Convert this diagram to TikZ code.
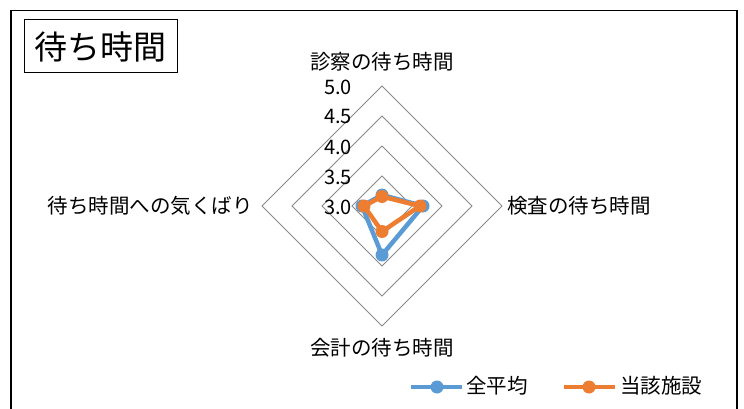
\documentclass[tikz,border=0pt]{standalone}
\usepackage{fontspec}
\setmainfont{Noto Sans CJK JP}
\definecolor{serA}{HTML}{5B9BD5}
\definecolor{serB}{HTML}{ED7D31}
\definecolor{gridc}{HTML}{898989}
\tikzset{
  lbl/.style={inner sep=0pt, font=\fontsize{20.5}{22}\selectfont},
  num/.style={inner sep=0pt, anchor=east, font=\fontsize{20}{22}\selectfont},
  ring/.style={draw=gridc, line width=1pt},
  serline/.style={line width=4.5pt, line join=round, line cap=round},
  mk/.style={circle, inner sep=0pt, minimum size=13pt},
}
\begin{document}
\begin{tikzpicture}[x=1pt,y=-1pt]
\useasboundingbox (0,0) rectangle (744,409);
\fill[white] (0,0) rectangle (744,409);
% frame
\draw[line width=1.5pt] (11,409) -- (11,10.5) -- (737,10.5) -- (737,409);
% title
\node[draw, line width=1pt, inner sep=0pt, minimum width=153pt, minimum height=53pt,
      font=\fontsize{33}{36}\selectfont] (title) at (100.5,46.5) {待ち時間};
% rings
\coordinate (C) at (382,206);
\foreach \r in {30,60,90,120}{
  \draw[ring] (382,206-\r) -- (382+\r,206) -- (382,206+\r) -- (382-\r,206) -- cycle;
}
% axis numbers
\node[num] (n30) at (352,207) {3.0};
\node[num] (n35) at (352,177) {3.5};
\node[num] (n40) at (352,147) {4.0};
\node[num] (n45) at (352,117) {4.5};
\node[num] (n50) at (352,87) {5.0};
% axis labels
\node[lbl] (ax1) at (382,62) {診察の待ち時間};
\node[lbl, anchor=west] (ax2) at (507,206) {検査の待ち時間};
\node[lbl] (ax3) at (382,348) {会計の待ち時間};
\node[lbl, anchor=east] (ax4) at (253,206) {待ち時間への気くばり};
% series A (blue)
\coordinate (a1) at (382,195);
\coordinate (a2) at (423,206);
\coordinate (a3) at (382,255);
\coordinate (a4) at (362,206);
\draw[serline, serA] (a1) -- (a2) -- (a3) -- (a4) -- cycle;
\foreach \p in {a1,a2,a3,a4}{ \node[mk, fill=serA] at (\p) {}; }
% series B (orange)
\coordinate (b1) at (382,196.5);
\coordinate (b2) at (420,206);
\coordinate (b3) at (382,231.5);
\coordinate (b4) at (364,206);
\draw[serline, serB] (b1) -- (b2) -- (b3) -- (b4) -- cycle;
\foreach \p in {b1,b2,b3,b4}{ \node[mk, fill=serB] at (\p) {}; }
% legend
\coordinate (la0) at (411,387);
\coordinate (la1) at (462,387);
\draw[serA, line width=4.5pt] (la0) -- (la1);
\node[mk, fill=serA] (lam) at (437,387) {};
\node[lbl, anchor=west] (lat) at (466,386) {全平均};
\coordinate (lb0) at (564,387);
\coordinate (lb1) at (615,387);
\draw[serB, line width=4.5pt] (lb0) -- (lb1);
\node[mk, fill=serB] (lbm) at (589,387) {};
\node[lbl, anchor=west] (lbt) at (620,386) {当該施設};
\end{tikzpicture}
\end{document}
